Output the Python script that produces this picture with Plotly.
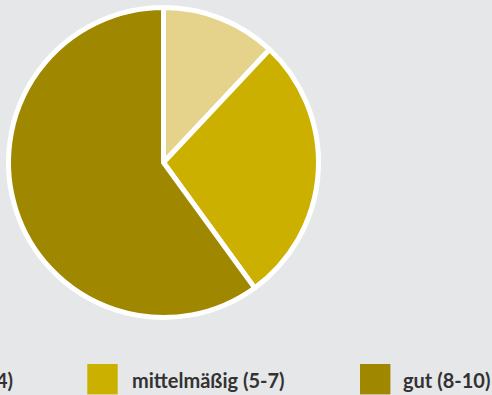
import plotly.graph_objects as go

# Rating groups and their share of responses (%)
categories = ["schlecht (0-4)", "mittelmäßig (5-7)", "gut (8-10)"]
shares = [12, 28, 60]
colors = ["#e5d38b", "#cbb000", "#a08700"]

W, H = 492, 395
BG = "#e6e7e9"
TEXT = "#333333"
FONT = "Lato"

# Pie placement in pixels: centre and radius
cx, cy, r = 163.5, 162.5, 155

fig = go.Figure(
    go.Pie(
        labels=categories,
        values=shares,
        sort=False,
        direction="clockwise",
        rotation=0,
        marker=dict(colors=colors, line=dict(color="white", width=5)),
        textinfo="none",
        hoverinfo="label+percent",
        showlegend=False,
        domain=dict(
            x=[(cx - r) / W, (cx + r) / W],
            y=[(H - cy - r) / H, (H - cy + r) / H],
        ),
    )
)

# Legend row along the bottom, drawn as swatches with labels
swatch_left = [-185.4, 87.3, 360.0]
swatch_size = 30.4
swatch_top = 364.0
label_x = [15.0, 130.0, 401.0]
label_anchor = ["right", "left", "left"]
label_mid = 380.0

shapes = []
annotations = []
for i, name in enumerate(categories):
    x0 = swatch_left[i]
    shapes.append(
        dict(
            type="rect",
            xref="paper",
            yref="paper",
            x0=x0 / W,
            x1=(x0 + swatch_size) / W,
            y0=(H - swatch_top - swatch_size) / H,
            y1=(H - swatch_top) / H,
            fillcolor=colors[i],
            line=dict(width=0),
            layer="above",
        )
    )
    annotations.append(
        dict(
            text=name,
            xref="paper",
            yref="paper",
            x=label_x[i] / W,
            y=(H - label_mid) / H,
            xanchor=label_anchor[i],
            yanchor="middle",
            showarrow=False,
            font=dict(family=FONT, size=20, color=TEXT, weight="bold"),
        )
    )

fig.update_layout(
    width=W,
    height=H,
    margin=dict(l=0, r=0, t=0, b=0, autoexpand=False),
    paper_bgcolor=BG,
    plot_bgcolor=BG,
    shapes=shapes,
    annotations=annotations,
)

fig.write_html("out.html")
